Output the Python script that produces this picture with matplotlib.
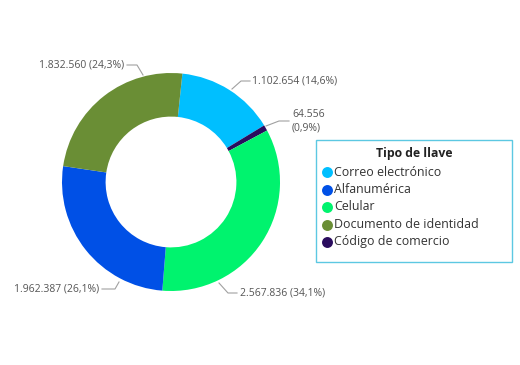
import matplotlib.pyplot as plt
from matplotlib.patches import Rectangle

plt.rcParams['font.family'] = ['Open Sans', 'DejaVu Sans']

# Datos (orden horario desde arriba)
categorias = ['Correo electrónico', 'Código de comercio', 'Celular', 'Alfanumérica', 'Documento de identidad']
valores = [1102654, 64556, 2567836, 1962387, 1832560]
etiquetas = ['1.102.654 (14,6%)', '64.556\n(0,9%)', '2.567.836 (34,1%)', '1.962.387 (26,1%)', '1.832.560 (24,3%)']
colores = {'Correo electrónico': '#00BFFF', 'Alfanumérica': '#0050E6', 'Celular': '#00F36E',
           'Documento de identidad': '#6A8E35', 'Código de comercio': '#2A0C5E'}
orden_leyenda = ['Correo electrónico', 'Alfanumérica', 'Celular', 'Documento de identidad', 'Código de comercio']

W, H = 520, 365
fig = plt.figure(figsize=(W / 100, H / 100), dpi=100)
ax = fig.add_axes([0, 0, 1, 1])

def py(y):
    # pasa coordenada de pixel (desde arriba) a coordenada del eje
    return H - y

cx, cy, R = 171, py(182), 109
ax.pie(valores, colors=[colores[c] for c in categorias], startangle=84, counterclock=False,
       center=(cx, cy), radius=R, wedgeprops=dict(width=R * 0.4, linewidth=0), frame=True)

# Lineas guia y etiquetas (posiciones en pixeles)
guias = [
    ([(232, 89), (241, 81), (250, 81)], (252, 81), 'left'),
    ([(266, 126), (279, 121), (289, 121)], (292, 121), 'left'),
    ([(219, 283), (228, 293), (237, 293)], (240, 293), 'left'),
    ([(119, 282), (115, 289), (102, 289)], (99, 289), 'right'),
    ([(143, 75), (137, 65), (127, 65)], (124, 65), 'right'),
]
for (puntos, pos_txt, ha), txt in zip(guias, etiquetas):
    xs = [p[0] for p in puntos]
    ys = [py(p[1]) for p in puntos]
    ax.plot(xs, ys, color='#A0A0A0', lw=0.8)
    ax.text(pos_txt[0], py(pos_txt[1]), txt, ha=ha, va='center', fontsize=7.5,
            color='#555555', linespacing=1.3)

# Leyenda
ax.add_patch(Rectangle((316, py(262)), 196, 122, fill=False, edgecolor='#5CC8E2', lw=1))
ax.text(414, py(154), 'Tipo de llave', ha='center', va='center', fontsize=8.8,
        fontweight='bold', color='#222222')
for i, cat in enumerate(orden_leyenda):
    y = py(172 + i * 17.5)
    ax.scatter([327], [y], s=62, color=colores[cat], linewidths=0)
    ax.text(334, y, cat, ha='left', va='center', fontsize=8.9, color='#333333')

ax.set_xlim(0, W)
ax.set_ylim(0, H)
ax.set_aspect('equal')
ax.axis('off')

fig.savefig('out.png', dpi=100)
